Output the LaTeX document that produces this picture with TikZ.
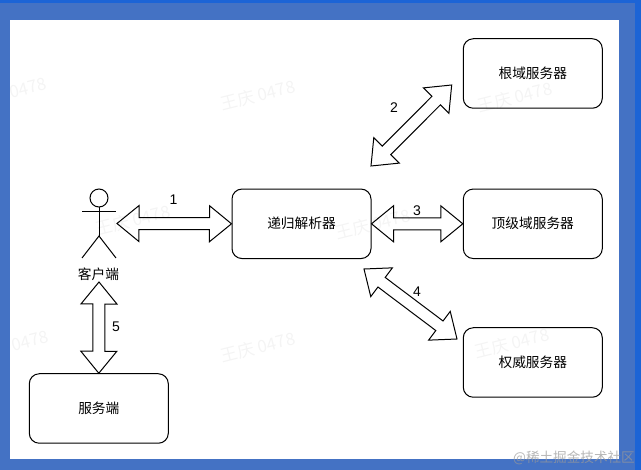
\documentclass[tikz,border=0pt]{standalone}
\usepackage{fontspec}
\setmainfont{Liberation Sans}
\newfontfamily\cjk{Noto Sans CJK SC}
\usetikzlibrary{calc}
\definecolor{bandblue}{HTML}{4472C4}
\definecolor{edgeblue}{HTML}{1C64D6}
\tikzset{
  box/.style={draw=black,line width=1pt,rounded corners=10pt,fill=white,minimum width=139pt,minimum height=69.5pt,inner sep=0pt,font=\fontsize{13.7}{15}\cjk},
  tag/.style={inner sep=0pt,font=\fontsize{14}{16}\selectfont},
  actorline/.style={draw=black,line width=1pt},
  biarrow/.style={draw=black,line width=1pt,fill=white,line join=miter},
  wm/.style={inner sep=0pt,text=black,text opacity=0.045,rotate=14,font=\fontsize{17}{19}\cjk}
}
% double arrow between two named coordinates
\newcommand{\biarrow}[2]{%
  \draw[biarrow]
    (#1)
    -- ($(#1)!22pt!(#2)!18pt!90:(#2)$) -- ($(#1)!22pt!(#2)!6pt!90:(#2)$)
    -- ($(#2)!22pt!(#1)!6pt!-90:(#1)$) -- ($(#2)!22pt!(#1)!18pt!-90:(#1)$)
    -- (#2)
    -- ($(#2)!22pt!(#1)!18pt!90:(#1)$) -- ($(#2)!22pt!(#1)!6pt!90:(#1)$)
    -- ($(#1)!22pt!(#2)!6pt!-90:(#2)$) -- ($(#1)!22pt!(#2)!18pt!-90:(#2)$)
    -- cycle;}
\begin{document}
\begin{tikzpicture}[x=1pt,y=-1pt]
\useasboundingbox (0,0) rectangle (641,470);
\fill[bandblue] (0,0) rectangle (641,470);
\fill[edgeblue] (0,0) rectangle (641,3);
\fill[edgeblue] (635,0) rectangle (641,470);
\fill[white] (10.3,20) rectangle (619.3,459.3);
% boxes
\node[box] (root) at (532.8,73.5) {根域服务器};
\node[box] (tld) at (532.8,223.8) {顶级域服务器};
\node[box] (auth) at (532.8,362.5) {权威服务器};
\node[box] (rec) at (301.5,223.8) {递归解析器};
\node[box] (srv) at (98.8,408.5) {服务端};
% actor
\node[draw=black,line width=1pt,circle,minimum size=18pt,inner sep=0pt] (head) at (99,198) {};
\coordinate (hip) at (99,236);
\coordinate (armL) at (82,212);
\coordinate (armR) at (116,212);
\coordinate (legL) at (82,258);
\coordinate (legR) at (116,258);
\draw[actorline] (head.south) -- (hip);
\draw[actorline] (armL) -- (armR);
\draw[actorline] (legL) -- (hip) -- (legR);
\node[inner sep=0pt,font=\fontsize{13.7}{15}\cjk] (clientlabel) at (98.5,274) {客户端};
% arrow ends
\coordinate (a1) at (117,223.5);
\coordinate (a1b) at (rec.west);
\coordinate (a2) at (451.7,85);
\coordinate (a2b) at (371,166);
\coordinate (a3) at (rec.east);
\coordinate (a3b) at (tld.west);
\coordinate (a4) at (364,269);
\coordinate (a4b) at (457,339);
\coordinate (a5) at (99,282);
\coordinate (a5b) at (srv.north);
\biarrow{a1}{a1b}
\biarrow{a2}{a2b}
\biarrow{a3}{a3b}
\biarrow{a4}{a4b}
\biarrow{a5}{a5b}
% numbers
\node[tag] (n1) at (173.5,200) {1};
\node[tag] (n2) at (394,107.7) {2};
\node[tag] (n3) at (417,210.5) {3};
\node[tag] (n4) at (417,292) {4};
\node[tag] (n5) at (116,327) {5};
% watermarks
\node[wm] (w1) at (28,88) {0478};
\node[wm] (w2) at (258,95) {王庆 0478};
\node[wm] (w3) at (515,97) {王庆 0478};
\node[wm] (w4) at (133,220) {王庆 0478};
\node[wm] (w5) at (373,224) {王庆 0478};
\node[wm] (w6) at (30,341) {0478};
\node[wm] (w7) at (258,347) {王庆 0478};
\node[wm] (w8) at (512,343) {王庆 0478};
\node[inner sep=0pt,text=black!40,text opacity=0.7,anchor=east,font=\fontsize{13.6}{15}\cjk] (credit) at (635,458) {@稀土掘金技术社区};
\end{tikzpicture}
\end{document}
